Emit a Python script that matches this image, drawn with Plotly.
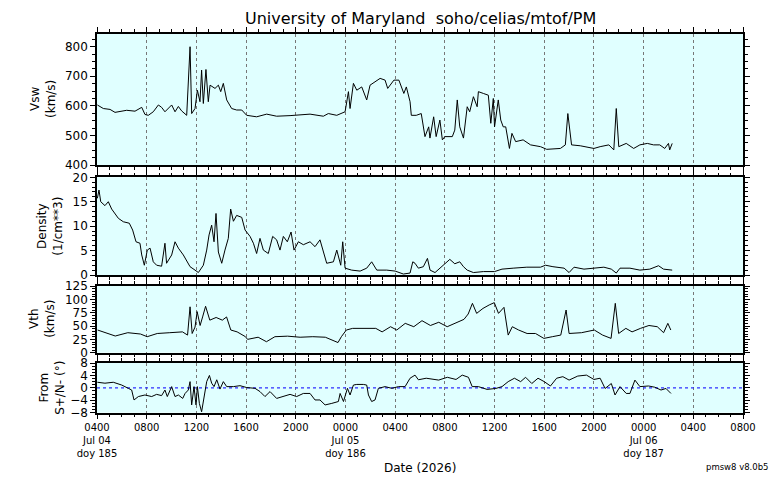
import pandas as pd
import plotly.graph_objects as go

# ---------------- data (hours after 2026-07-04 04:00 UT) ----------------
vsw_h = [0.03,0.51,1.05,1.45,2.39,3.06,3.6,3.86,4.13,4.53,4.94,5.2,5.47,6.01,6.28,6.55,6.81,7.22,7.49,7.62,
         7.89,8.08,8.29,8.42,8.56,8.77,8.96,9.1,9.5,9.77,9.96,10.17,10.44,10.84,11.24,11.65,12.05,12.85,13.66,14.46,
         15.54,16.07,17.15,18.22,18.62,19.3,19.97,20.24,20.37,20.64,20.91,21.31,21.71,21.98,22.38,22.79,23.19,
         23.4,23.9,24.3,24.7,24.9,25.2,25.3,25.7,26.1,26.4,26.7,26.8,27.1,27.3,27.6,27.8,28.0,28.6,28.8,29.0,
         29.2,29.5,29.8,30.0,30.3,30.6,30.7,31.1,31.5,31.7,31.9,32.0,32.3,32.5,32.7,32.9,33.2,33.4,33.7,34.3,
         34.9,35.7,36.2,37.3,37.7,37.9,38.2,38.9,40.0,40.5,41.2,41.6,41.8,42.0,42.6,43.2,43.7,44.3,44.8,45.3,
         45.7,46.0,46.1,46.3]
vsw = [603,591,588,578,585,582,595,571,568,580,603,595,580,603,580,598,583,568,800,574,
       591,653,614,721,608,723,614,670,659,670,648,676,620,591,586,586,568,563,572,565,
       567,568,572,565,574,568,580,648,591,676,653,664,620,670,681,693,687,
       659,687,687,642,664,614,568,568,574,496,529,491,563,496,552,485,496,496,518,620,
       529,491,597,580,631,597,648,642,636,541,625,529,620,552,529,529,456,507,479,485,
       468,462,453,456,468,574,468,465,456,462,468,451,591,462,473,456,468,473,468,468,
       456,473,451,473]

den_h = [0.03,0.16,0.3,0.64,0.91,1.18,1.72,2.12,2.6,2.87,3.14,3.46,3.6,3.81,4.05,4.27,4.53,4.8,5.2,5.47,
         5.6,6.01,6.28,6.55,6.95,7.49,7.89,8.16,8.56,8.83,9.02,9.23,9.42,9.58,9.77,10.04,10.3,10.57,10.76,10.98,
         11.24,11.65,11.92,12.32,12.59,12.85,13.12,13.39,13.79,14.14,14.46,14.73,15.0,15.32,15.62,15.86,16.21,16.61,17.15,17.55,
         17.95,18.22,18.49,19.03,19.3,19.62,19.78,19.97,20.5,21.18,21.71,22.11,22.52,23.32,24.0,24.66,25.2,25.42,25.6,25.87,
         26.27,26.6,26.81,27.21,27.62,28.15,28.4,28.8,29.2,29.5,29.8,30.3,31.1,32.0,32.6,33.5,34.6,35.7,36.1,36.7,
         37.6,38.0,38.4,39.2,39.97,40.8,41.4,41.8,42.1,42.9,43.7,44.5,45.2,45.6,46.3]
den = [15.7,17.4,15.0,14.2,15.0,13.5,11.6,10.9,10.6,9.2,6.8,6.5,4.1,2.0,5.1,5.5,2.7,2.0,1.8,6.5,
       2.4,4.1,6.8,5.5,4.1,1.7,1.0,0.5,2.0,5.1,8.2,10.2,6.8,12.6,4.7,2.4,5.1,7.5,13.5,11.0,
       12.2,11.8,9.2,7.9,6.5,4.4,7.5,5.1,4.4,7.9,7.2,5.1,7.9,6.8,8.8,5.1,6.8,6.2,6.8,5.8,
       7.2,4.7,2.4,2.7,5.1,2.0,6.8,1.4,1.0,0.8,1.4,2.7,1.0,1.0,0.8,0.2,0.4,2.7,2.4,1.4,
       1.7,3.4,1.0,0.5,1.4,2.7,3.2,2.3,2.7,1.7,1.0,0.5,0.7,0.7,1.2,1.4,1.6,1.6,2.0,1.7,
       1.4,0.5,1.6,1.2,1.4,1.6,1.2,0.4,1.4,1.4,1.0,1.2,1.9,1.2,1.0]

vth_h = [0.05,0.62,1.47,2.48,3.5,4.04,4.85,5.86,6.88,7.29,7.49,7.66,7.89,8.06,8.3,8.5,8.74,9.08,9.59,10.09,
         10.43,10.77,11.28,11.95,12.12,12.97,13.64,14.32,15.34,16.35,17.37,18.38,18.89,19.4,19.67,20.07,20.58,21.43,22.44,22.95,
         23.63,24.13,24.81,25.5,26.16,26.84,27.51,28.19,28.87,29.54,29.88,30.22,30.56,31.07,31.57,31.98,32.32,32.76,33.1,33.43,
         33.94,34.62,35.3,35.97,36.65,37.33,37.76,38.0,39.0,40.03,40.7,41.38,41.72,41.99,42.57,43.07,43.75,44.43,45.1,45.61,
         45.95,46.19]
vth = [42.5,37.5,31.3,37.5,35,30,36,37.5,39,33,86,36,48,77,51,67,87,61,66,61,
       67,42.5,39,30,25,29,20.6,30,31,29,30,29,24,19,30,42.5,45.6,45.6,45.6,39,
       48.7,42.5,55,48.7,60,51,57,48.7,55,62.5,72.5,92.5,73.7,83,89.5,93.8,73.7,85,33,48.7,
       42.5,36,36,26.8,30,33,80,36,37.5,42.5,33,26.8,92.5,36,45.6,39,45.6,51,48.7,37.5,
       55,42.5]

dir_h = [0.03,0.64,1.31,1.99,2.52,2.79,2.98,3.33,3.86,4.4,4.8,5.2,5.47,5.66,6.01,6.28,6.55,6.9,7.09,7.35,
         7.49,7.62,7.81,7.97,8.08,8.24,8.42,8.61,8.83,9.05,9.23,9.42,9.64,9.9,10.17,10.44,10.98,11.51,12.05,12.72,
         13.12,13.52,13.93,14.46,15.0,15.54,16.07,16.61,17.15,17.55,17.95,18.36,18.9,19.43,19.57,19.84,20.16,20.37,20.64,20.91,
         21.44,21.71,21.85,22.11,22.38,22.65,23.19,23.73,24.27,24.8,25.2,25.6,25.87,26.5,27.5,28.2,28.9,29.4,29.9,30.2,
         30.7,31.4,32.1,32.6,33.1,33.6,34.1,34.5,35.0,35.5,36.0,36.5,37.0,37.5,38.0,38.7,39.4,40.0,40.5,40.9,
         41.4,41.7,42.1,42.6,42.9,43.3,43.7,44.4,44.9,45.4,45.8,46.2]
dir_v = [1.8,1.5,1.8,0.9,-0.15,-0.7,-3.9,-2.8,-2.3,-2.8,-2.1,-2.5,-0.7,-2.8,0.4,-2.8,-2.3,-3.4,-1.8,-0.7,
         2.0,-5.5,0.4,-5.5,0.4,-5.0,-7.7,-3.4,2.0,4.0,1.5,0.4,2.6,-0.4,2.0,0.4,0.4,0.7,0.1,-0.15,
         -1.2,-2.8,-1.2,-3.4,-2.8,-2.1,-2.8,-1.8,-1.8,-3.9,-3.9,-5.5,-5.0,-4.4,-1.8,-4.4,-0.15,-2.3,0.9,1.1,
         1.1,0.9,-2.3,-4.4,-3.9,-0.15,0.4,-0.15,0.4,0.4,3.1,4.1,2.6,3.1,2.5,3.4,2.7,4.1,3.4,0.4,
         0.4,-0.5,-0.2,0.4,2.0,3.1,2.0,3.4,1.4,3.1,2.0,0.6,3.1,3.6,2.5,3.8,4.1,2.7,3.1,-0.2,
         1.4,-2.3,0.4,-1.8,-1.8,2.5,0.4,0.6,0.2,-0.7,-0.2,-1.8]

tick_hours = [0, 4, 8, 12, 16, 20, 24, 28, 32, 36, 40, 44, 48, 52]
tick_text = ["0400<br>Jul 04<br>doy 185", "0800", "1200", "1600", "2000",
             "0000<br>Jul 05<br>doy 186", "0400", "0800", "1200", "1600", "2000",
             "0000<br>Jul 06<br>doy 187", "0400", "0800"]

panel_titles = ["Vsw<br>(km/s)", "Density<br>(1/cm**3)", "Vth<br>(km/s)", "From<br>S+/N- (°)"]
y_ranges = [[400, 843], [0, 20], [0, 125], [-8, 8]]
y_dticks = [100, 5, 25, 4]
y_minor = [25, 1, 5, 1]

# ---------------- figure ----------------
base = pd.Timestamp("2026-07-04 04:00:00")
def tx(hours):
    return base + pd.to_timedelta(hours, unit="h")

W, H = 776, 480
xdom = [97 / W, 743 / W]
ypix = [(34, 165), (177.3, 275), (286, 352.7), (363, 412.7)]
ydoms = [[1 - b / H, 1 - t / H] for t, b in ypix]

series = [(vsw_h, vsw), (den_h, den), (vth_h, vth), (dir_h, dir_v)]
fig = go.Figure()

# zero line of bottom panel (drawn as a trace so it sits above the background)
fig.add_trace(go.Scatter(x=[tx(0), tx(52)], y=[0, 0], mode="lines",
                         line=dict(color="#2f2fff", width=1.2, dash="dot"),
                         xaxis="x4", yaxis="y4", showlegend=False, hoverinfo="skip"))

for i, (hh, vv) in enumerate(series):
    n = "" if i == 0 else str(i + 1)
    fig.add_trace(go.Scatter(x=tx(hh), y=vv, mode="lines",
                             line=dict(color="black", width=1),
                             xaxis="x" + n, yaxis="y" + n, showlegend=False,
                             hoverinfo="skip"))

layout = dict(width=W, height=H, margin=dict(l=0, r=0, t=0, b=0),
              paper_bgcolor="white", plot_bgcolor="#e0ffff",
              font=dict(family="DejaVu Sans", color="black", size=12),
              showlegend=False)
tickvals = list(tx(tick_hours))
for i in range(4):
    n = "" if i == 0 else str(i + 1)
    layout["xaxis" + n] = dict(
        domain=xdom, anchor="y" + n, range=[tx(0), tx(52)],
        tickmode="array", tickvals=tickvals, ticktext=tick_text,
        showticklabels=(i == 3), tickfont=dict(size=10),
        ticks="outside", ticklen=5, tickwidth=1, tickcolor="black",
        showline=True, linecolor="black", linewidth=1.5, mirror="allticks",
        showgrid=True, gridcolor="#777777", griddash="dot", gridwidth=1,
        zeroline=False, automargin=False,
        minor=dict(dtick=3600000, ticks="outside", ticklen=3, tickcolor="black", showgrid=False),
        **({} if i == 0 else dict(matches="x")))
    layout["yaxis" + n] = dict(
        domain=ydoms[i], anchor="x" + n, range=y_ranges[i], dtick=y_dticks[i],
        tick0=y_ranges[i][0] if i != 3 else -8,
        ticks="outside", ticklen=5, tickwidth=1, tickcolor="black",
        tickfont=dict(size=12), showline=True, linecolor="black", linewidth=1.5,
        mirror="allticks", showgrid=False, zeroline=False, automargin=False,
        minor=dict(dtick=y_minor[i], ticks="outside", ticklen=3, tickcolor="black"))
fig.update_layout(**layout)

fig.update_yaxes(tickvals=[400, 500, 600, 700, 800], selector=dict(anchor="x"))

# panel y titles
title_x = [42.5, 50.5, 42.5, 52]
for i, t in enumerate(panel_titles):
    t_pix, b_pix = ypix[i]
    fig.add_annotation(x=title_x[i] / W, y=1 - (t_pix + b_pix) / 2 / H, xref="paper", yref="paper",
                       text=t, textangle=-90, showarrow=False, xanchor="center", yanchor="middle",
                       font=dict(size=12))

fig.add_annotation(x=421 / W, y=1 - 19 / H, xref="paper", yref="paper",
                   text="University of Maryland  soho/celias/mtof/PM", showarrow=False,
                   xanchor="center", yanchor="middle", font=dict(size=16))
fig.add_annotation(x=420 / W, y=1 - 468 / H, xref="paper", yref="paper",
                   text="Date (2026)", showarrow=False, xanchor="center", yanchor="middle",
                   font=dict(size=12))
fig.add_annotation(x=771 / W, y=1 - 467 / H, xref="paper", yref="paper",
                   text="pmsw8 v8.0b5", showarrow=False, xanchor="right", yanchor="middle",
                   font=dict(size=8.5))

fig.write_html("out.html")
